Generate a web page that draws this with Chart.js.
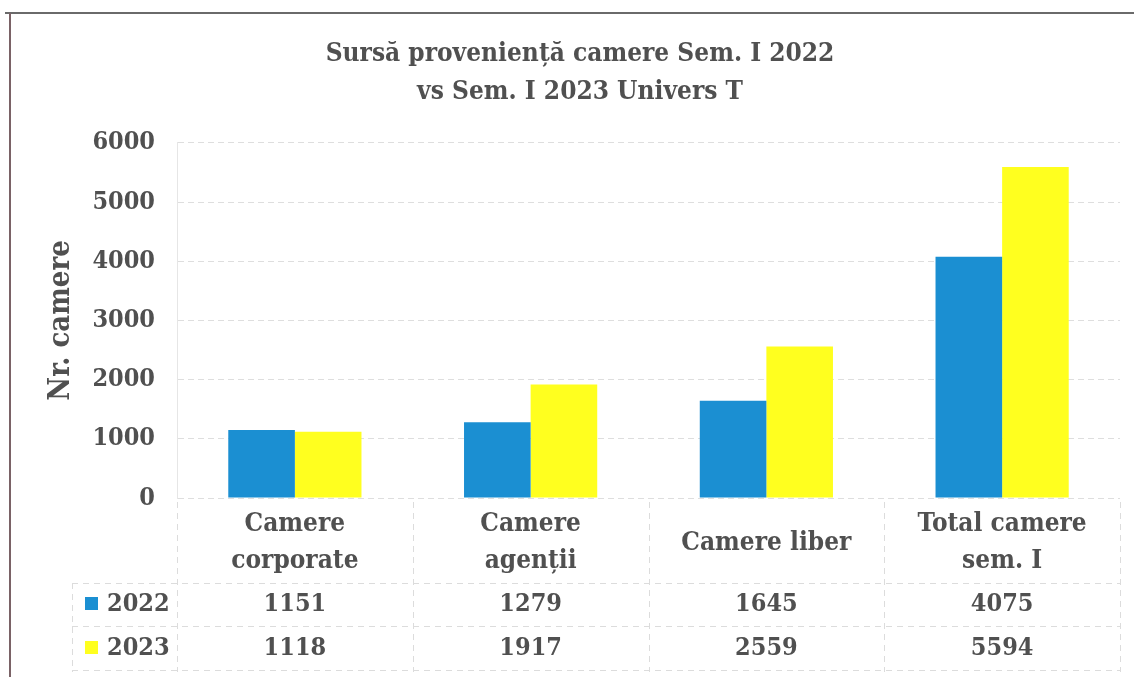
<!DOCTYPE html>
<html>
<head>
<meta charset="utf-8">
<script src="https://cdn.jsdelivr.net/npm/chart.js@4"></script>
<style>
  html, body { margin: 0; padding: 0; background: #fff; }
  #wrap { width: 1134px; height: 677px; }
</style>
</head>
<body>
<div id="wrap"><canvas id="chart" width="1134" height="677"></canvas></div>
<script>
// date
const categories = [['Camere', 'corporate'], ['Camere', 'agenții'], ['Camere liber'], ['Total camere', 'sem. I']];
const seriesNames = ['2022', '2023'];
const values2022 = [1151, 1279, 1645, 4075];
const values2023 = [1118, 1917, 2559, 5594];
const yTicks = [0, 1000, 2000, 3000, 4000, 5000, 6000];

const textColor = '#505050';
const fontFamily = '"DejaVu Serif Condensed", "DejaVu Serif", serif';
const colors = ['#1b8fd2', '#ffff1f'];

// rama paginii scanate
const framePlugin = {
    id: 'frame',
    beforeDraw: function(chart) {
        var ctx = chart.ctx;
        ctx.save();
        ctx.fillStyle = '#fff';
        ctx.fillRect(0, 0, chart.width, chart.height);
        ctx.strokeStyle = '#6a6a6a';
        ctx.lineWidth = 2;
        ctx.beginPath();
        ctx.moveTo(5, 13);
        ctx.lineTo(chart.width, 13);
        ctx.stroke();
        ctx.strokeStyle = '#7a6266';
        ctx.beginPath();
        ctx.moveTo(10, 13);
        ctx.lineTo(10, chart.height);
        ctx.stroke();
        ctx.restore();
    }
};

// tabelul de date de sub grafic
const dataTablePlugin = {
    id: 'dataTable',
    afterDraw: function(chart) {
        var ctx = chart.ctx;
        var x = chart.scales.x;
        var area = chart.chartArea;
        var step = x.getPixelForValue(1) - x.getPixelForValue(0);
        var rowY = [604, 648];
        var allValues = [values2022, values2023];

        ctx.save();
        // linii tabel
        ctx.strokeStyle = '#dcdcdc';
        ctx.lineWidth = 1;
        ctx.setLineDash([6, 5]);
        [583, 626, 670].forEach(function(y) {
            ctx.beginPath();
            ctx.moveTo(72, y + 0.5);
            ctx.lineTo(area.right, y + 0.5);
            ctx.stroke();
        });
        for (var i = 0; i <= categories.length; i++) {
            var vx = Math.round(x.getPixelForValue(i) - step / 2) + 0.5;
            ctx.beginPath();
            ctx.moveTo(vx, area.bottom + 4);
            ctx.lineTo(vx, 672);
            ctx.stroke();
        }
        ctx.beginPath();
        ctx.moveTo(72.5, 583);
        ctx.lineTo(72.5, 672);
        ctx.stroke();
        ctx.setLineDash([]);

        ctx.fillStyle = textColor;
        ctx.textAlign = 'center';
        ctx.textBaseline = 'middle';

        categories.forEach(function(lines, i) {
            var cx = x.getPixelForValue(i);
            ctx.font = 'bold 26px ' + fontFamily;
            if (lines.length === 1) {
                ctx.fillText(lines[0], cx, 543);
            } else {
                ctx.fillText(lines[0], cx, 524);
                ctx.fillText(lines[1], cx, 561);
            }
            ctx.font = 'bold 25px ' + fontFamily;
            allValues.forEach(function(vals, s) {
                ctx.fillText(String(vals[i]), cx, rowY[s]);
            });
        });

        // cheile legendei
        ctx.textAlign = 'left';
        ctx.font = 'bold 25px ' + fontFamily;
        seriesNames.forEach(function(name, s) {
            ctx.fillStyle = colors[s];
            ctx.fillRect(85, rowY[s] - 7, 13, 13);
            ctx.fillStyle = textColor;
            ctx.fillText(name, 107, rowY[s]);
        });
        ctx.restore();
    }
};

const ctx = document.getElementById('chart').getContext('2d');
const chart = new Chart(ctx, {
    type: 'bar',
    data: {
        labels: categories,
        datasets: [{
            label: seriesNames[0],
            data: values2022,
            backgroundColor: colors[0],
            categoryPercentage: 0.565,
            barPercentage: 1.0
        }, {
            label: seriesNames[1],
            data: values2023,
            backgroundColor: colors[1],
            categoryPercentage: 0.565,
            barPercentage: 1.0
        }]
    },
    plugins: [framePlugin, dataTablePlugin],
    options: {
        responsive: false,
        animation: false,
        layout: {
            padding: { left: 40, right: 14, top: 0, bottom: 171 }
        },
        plugins: {
            legend: { display: false },
            tooltip: { enabled: false },
            title: {
                display: true,
                text: ['Sursă proveniență camere Sem. I 2022', 'vs Sem. I 2023 Univers T'],
                color: textColor,
                font: { family: fontFamily, size: 26, weight: 'bold', lineHeight: 1.46 },
                padding: { top: 35, bottom: 32 }
            }
        },
        scales: {
            x: {
                grid: { display: false },
                border: { display: false },
                ticks: { display: false }
            },
            y: {
                min: 0,
                max: 6000,
                afterBuildTicks: function(axis) {
                    axis.ticks = yTicks.map(function(v) { return { value: v }; });
                },
                afterFit: function(axis) {
                    axis.width = 137;
                },
                grid: {
                    color: '#dedede',
                    drawTicks: false
                },
                border: { display: true, color: '#e6e6e6', dash: [6, 4] },
                ticks: {
                    color: textColor,
                    padding: 22,
                    font: { family: fontFamily, size: 25, weight: 'bold' },
                    callback: function(value) { return String(value); }
                },
                title: {
                    display: true,
                    text: 'Nr. camere',
                    color: textColor,
                    padding: { top: 4, bottom: 0 },
                    font: { family: fontFamily, size: 29, weight: 'bold' }
                }
            }
        }
    }
});
</script>
</body>
</html>
